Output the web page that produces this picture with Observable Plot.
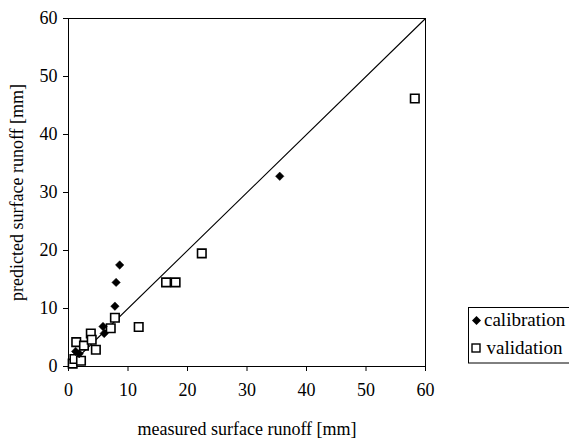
<!DOCTYPE html>
<html>
<head>
<meta charset="utf-8">
<script src="https://cdn.jsdelivr.net/npm/d3@7"></script>
<script src="https://cdn.jsdelivr.net/npm/@observablehq/plot@0.6"></script>
<style>
  html, body { margin: 0; padding: 0; background: #fff; }
  #wrap { position: relative; width: 569px; height: 443px; overflow: hidden; font-family: "Liberation Serif", "Times New Roman", Times, serif; }
  #chart svg, #chart svg text { font-family: "Liberation Serif", "Times New Roman", Times, serif !important; }
  #legend { position: absolute; left: 468px; top: 307px; overflow: visible; }
  #legend text { font-family: "Liberation Serif", "Times New Roman", Times, serif; font-size: 19px; fill: #000; }
</style>
</head>
<body>
<div id="wrap">
  <div id="chart"></div>
  <svg id="legend" width="120" height="57">
    <rect x="0.5" y="0.5" width="118" height="55.5" fill="#fff" stroke="#000" stroke-width="1"/>
    <path d="M8.5,9L13,13.5L8.5,18L4,13.5Z" fill="#000"/>
    <text x="16" y="19">calibration</text>
    <rect x="4" y="37" width="8" height="8" fill="#fff" stroke="#000" stroke-width="1.4"/>
    <text x="18.5" y="47">validation</text>
  </svg>
</div>
<script>
// calibration (measured, predicted) [mm]
const calMeasured  = [1.2, 1.8, 5.8, 6.0, 7.8, 8.0, 8.6, 35.5];
const calPredicted = [2.6, 2.2, 6.9, 5.7, 10.4, 14.5, 17.5, 32.8];
// validation (measured, predicted) [mm]
const valMeasured  = [0.7, 1.0, 2.1, 1.3, 2.6, 3.75, 3.9, 4.6, 7.1, 7.8, 11.8, 16.4, 18.0, 22.4, 58.2];
const valPredicted = [0.5, 1.3, 1.0, 4.2, 3.6, 5.7, 4.6, 2.9, 6.6, 8.4, 6.8, 14.5, 14.5, 19.5, 46.2];
const oneToOne = [0, 60];
const xTicks = [0, 10, 20, 30, 40, 50, 60];
const yTicks = [0, 10, 20, 30, 40, 50, 60];

const cal = calMeasured.map((m, i) => ({m, p: calPredicted[i]}));
const val = valMeasured.map((m, i) => ({m, p: valPredicted[i]}));
const line = oneToOne.map(v => ({m: v, p: v}));

const chart = Plot.plot({
  width: 569,
  height: 443,
  marginLeft: 68,
  marginRight: 144,
  marginTop: 18,
  marginBottom: 77,
  style: { fontFamily: "'Liberation Serif', 'Times New Roman', serif", fontSize: "18px", color: "#000", background: "#fff" },
  x: { domain: [0, 60] },
  y: { domain: [0, 60] },
  marks: [
    Plot.frame({stroke: "#000", strokeWidth: 1}),
    Plot.axisX({ticks: xTicks, tickSize: 5, tickPadding: 12, fontSize: 18, label: "measured surface runoff [mm]", labelAnchor: "center", labelArrow: "none", labelOffset: 68}),
    Plot.axisY({ticks: yTicks, tickSize: 5, tickPadding: 6, fontSize: 18, label: "predicted surface runoff [mm]", labelAnchor: "center", labelArrow: "none", labelOffset: 58}),
    Plot.line(line, {x: "m", y: "p", stroke: "#000", strokeWidth: 1.1}),
    Plot.dot(val, {x: "m", y: "p", symbol: "square", r: 4.8, fill: "#fff", stroke: "#000", strokeWidth: 1.6}),
    Plot.dot(cal, {x: "m", y: "p", symbol: "diamond2", r: 3.8, fill: "#000", stroke: "#000", strokeWidth: 0.5})
  ]
});
document.getElementById("chart").appendChild(chart);
</script>
</body>
</html>
